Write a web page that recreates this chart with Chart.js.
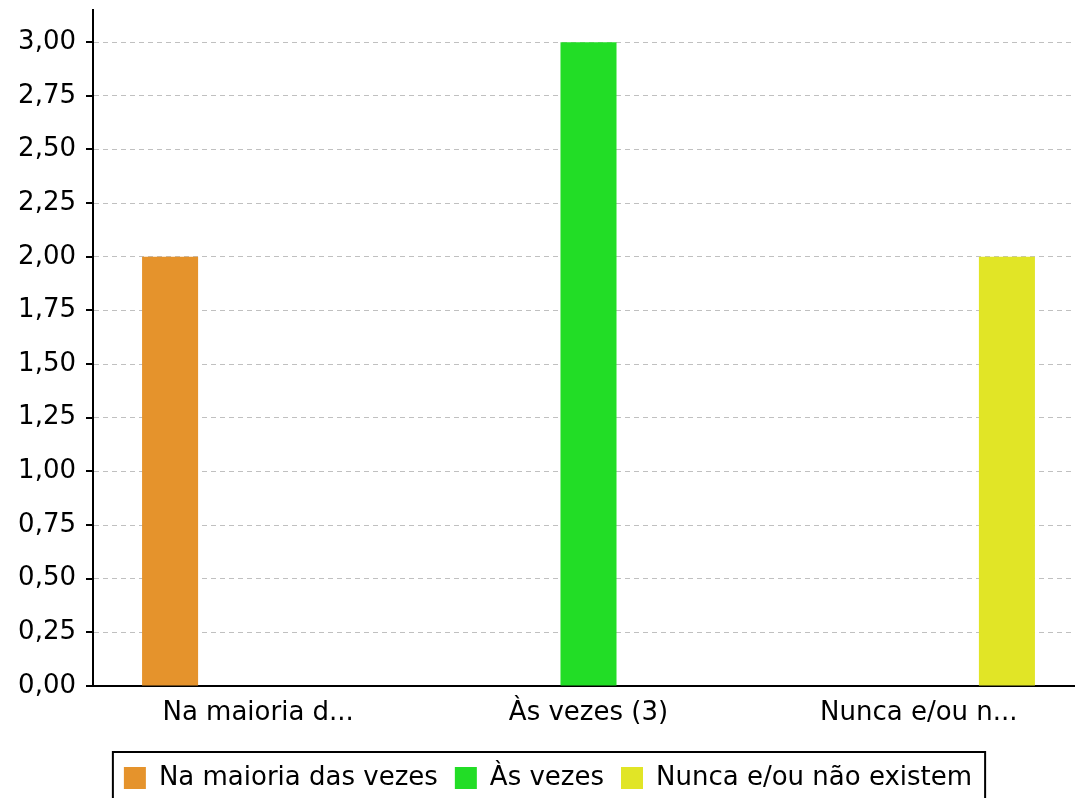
<!DOCTYPE html>
<html>
<head>
<meta charset="utf-8">
<script src="https://cdn.jsdelivr.net/npm/chart.js@4.4.0/dist/chart.umd.min.js"></script>
<style>
  html, body { margin: 0; padding: 0; background: #fff; overflow: hidden; width: 1075px; height: 798px; }
  /* the original plot runs slightly past the right and bottom edges */
  #wrap { width: 1084px; height: 801px; }
</style>
</head>
<body>
<div id="wrap"><canvas id="barCanvas"></canvas></div>
<script>
const categories = ['Na maioria d...', 'Às vezes (3)', 'Nunca e/ou n...'];
const seriesNames = ['Na maioria das vezes', 'Às vezes', 'Nunca e/ou não existem'];
const seriesColors = ['#e5932c', '#22dd26', '#e1e526'];
const maioria = [2, null, null];
const asVezes = [null, 3, null];
const nunca = [null, null, 2];
const yMax = 3.15;
const yStep = 0.25;

Chart.defaults.font.family = "'DejaVu Sans', sans-serif";
Chart.defaults.font.size = 26;
Chart.defaults.color = '#000';

// black tick marks on the y axis (grid lines themselves are dashed gray)
const yTickMarks = {
    id: 'yTickMarks',
    afterDraw(chart) {
        const ctx = chart.ctx;
        const y = chart.scales.y;
        ctx.save();
        ctx.strokeStyle = '#000';
        ctx.lineWidth = 2;
        y.ticks.forEach((t) => {
            const py = Math.round(y.getPixelForValue(t.value));
            ctx.beginPath();
            ctx.moveTo(y.right - 7, py);
            ctx.lineTo(y.right, py);
            ctx.stroke();
        });
        ctx.restore();
    }
};

// frame around the legend
const legendFrame = {
    id: 'legendFrame',
    afterDraw(chart) {
        const boxes = chart.legend.legendHitBoxes;
        if (!boxes || !boxes.length) return;
        const first = boxes[0];
        const last = boxes[boxes.length - 1];
        const mid = first.top + first.height / 2;
        const ctx = chart.ctx;
        ctx.save();
        ctx.strokeStyle = '#000';
        ctx.lineWidth = 2;
        ctx.strokeRect(first.left - 11, mid - 26, last.left + last.width - first.left + 24, 60);
        ctx.restore();
    }
};

new Chart(document.getElementById('barCanvas'), {
    type: 'bar',
    data: {
        labels: categories,
        datasets: [
            { label: seriesNames[0], data: maioria, backgroundColor: seriesColors[0] },
            { label: seriesNames[1], data: asVezes, backgroundColor: seriesColors[1] },
            { label: seriesNames[2], data: nunca, backgroundColor: seriesColors[2] }
        ]
    },
    options: {
        responsive: true,
        maintainAspectRatio: false,
        animation: false,
        categoryPercentage: 0.8,
        barPercentage: 0.636,
        layout: { padding: { left: 12, right: 0, top: 10, bottom: 0 } },
        scales: {
            x: {
                grid: { display: false, drawTicks: false },
                border: { color: '#000', width: 2 },
                ticks: { padding: 12, maxRotation: 0 },
                afterFit(scale) {
                    scale.height = 62;
                    scale.paddingLeft = 0;
                    scale.paddingRight = 0;
                }
            },
            y: {
                min: 0,
                max: yMax,
                grid: { color: '#c0c0c0', lineWidth: 1, drawTicks: false },
                border: { color: '#000', width: 2, dash: [5, 4] },
                ticks: {
                    stepSize: yStep,
                    includeBounds: false,
                    padding: 17,
                    callback: (v) => v.toFixed(2).replace('.', ',')
                },
                afterFit(scale) {
                    scale.width = 81;
                    scale.paddingTop = 0;
                    scale.paddingBottom = 0;
                }
            }
        },
        plugins: {
            legend: {
                position: 'bottom',
                labels: { boxWidth: 22, boxHeight: 22, padding: 17 }
            },
            tooltip: { enabled: false }
        }
    },
    plugins: [yTickMarks, legendFrame]
});
</script>
</body>
</html>
